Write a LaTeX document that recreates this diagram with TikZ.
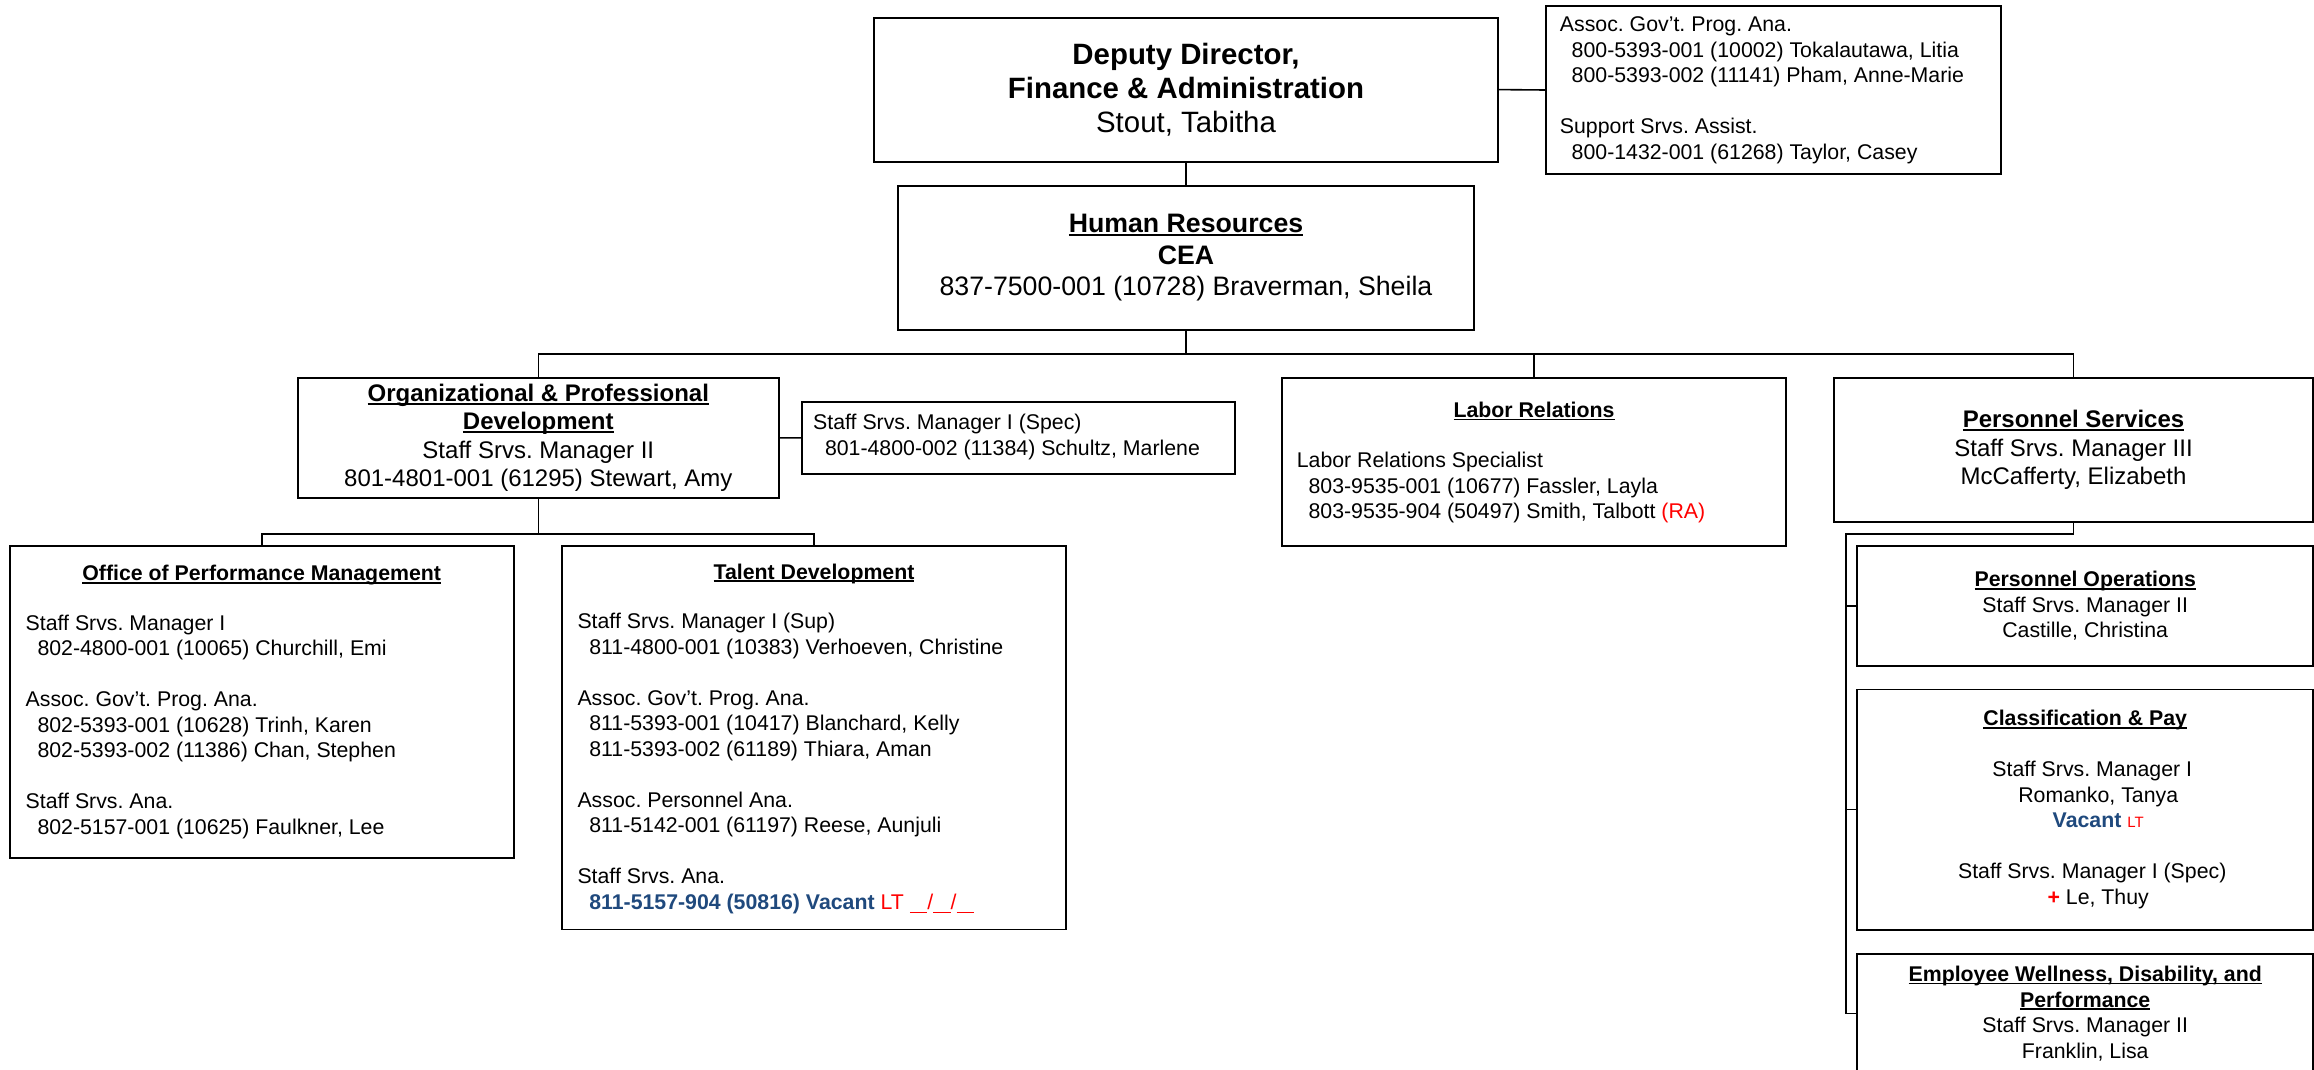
\documentclass[tikz,border=0pt]{standalone}
\usepackage{fontspec}
\setmainfont{Liberation Sans}
\frenchspacing
\definecolor{vacblue}{HTML}{1F497D}
\definecolor{ltred}{HTML}{FF0000}
\newbox\ulbox
\newcommand\ulx[1]{\setbox\ulbox\hbox{#1}\rlap{\rule[-0.13em]{\wd\ulbox}{0.075em}}\box\ulbox}
\newcommand\fsz[2]{\fontsize{#1pt}{#2pt}\selectfont}
\newcommand\ind{\hspace*{11.8pt}}
\newcommand\blank{\rule[-4.2pt]{17.5pt}{1.4pt}}
\begin{document}
\begin{tikzpicture}[x=1pt,y=-1pt,
  box/.style={draw, line width=1.9pt, inner sep=0pt},
  link/.style={line width=1.6pt},
  txt/.style={inner sep=0pt, font=\fsz{21.3}{25.5}},
  ttl/.style={inner sep=0pt, font=\fsz{21.3}{25.5}\bfseries, anchor=base},
]
\useasboundingbox (0,0) rectangle (2314,1070);
\clip (0,0) rectangle (2314,1070);

% ---------- boxes ----------
\node[box, minimum width=624pt, minimum height=144pt, align=center, font=\fsz{29.4}{34}] (dep) at (1186,89.6)
  {{\bfseries Deputy Director,}\\ {\bfseries Finance \& Administration}\\ Stout, Tabitha};
\node[box, minimum width=455pt, minimum height=168pt] (depside) at (1773.5,90) {};
\node[box, minimum width=576pt, minimum height=144.3pt, align=center, font=\fsz{26.7}{31.5}] (hr) at (1186,257.9)
  {{\bfseries\ulx{Human Resources}}\\ {\bfseries CEA}\\ 837-7500-001 (10728) Braverman, Sheila};
\node[box, minimum width=481.5pt, minimum height=120.5pt, align=center, font=\fsz{24}{28.3}] (opd) at (538.3,437.8)
  {{\bfseries\ulx{Organizational \& Professional}}\\ {\bfseries\ulx{Development}}\\ Staff Srvs. Manager II\\ 801-4801-001 (61295) Stewart, Amy};
\node[box, minimum width=433pt, minimum height=72.3pt] (spec) at (1018.5,437.9) {};
\node[box, minimum width=504pt, minimum height=168pt] (labor) at (1534,461.7) {};
\node[box, minimum width=479pt, minimum height=144.3pt, align=center, font=\fsz{24}{28.3}] (ps) at (2073.5,449.9)
  {{\bfseries\ulx{Personnel Services}}\\ Staff Srvs. Manager III\\ McCafferty, Elizabeth};
\node[box, minimum width=504.2pt, minimum height=312pt] (opm) at (261.7,701.7) {};
\node[box, minimum width=504pt, minimum height=383.8pt] (td) at (814,737.6) {};
\node[box, minimum width=455.7pt, minimum height=120pt, align=center, font=\fsz{21.3}{25.3}] (po) at (2085.2,605.8)
  {{\bfseries\ulx{Personnel Operations}}\\ Staff Srvs. Manager II\\ Castille, Christina};
\node[box, minimum width=455.7pt, minimum height=240.3pt, align=center, font=\fsz{21.3}{25.5}] (cp) at (2085.2,809.6)
  {{\bfseries\ulx{Classification \& Pay}}\\[25.5pt]
   \hspace*{14pt}Staff Srvs. Manager I\\
   \hspace*{26pt}Romanko, Tanya\\
   \hspace*{26pt}{\bfseries\color{vacblue}Vacant} {\color{ltred}\fsz{15}{25.5}LT}\\[25.5pt]
   \hspace*{14pt}Staff Srvs. Manager I (Spec)\\
   \hspace*{26pt}{\color{ltred}\bfseries +} Le, Thuy};
\node[box, minimum width=455.7pt, minimum height=120pt, align=center, font=\fsz{21.3}{25.5}] (ew) at (2085.2,1013.6)
  {{\bfseries\ulx{Employee Wellness, Disability, and}}\\ {\bfseries\ulx{Performance}}\\ Staff Srvs. Manager II\\ Franklin, Lisa};

% ---------- left-aligned texts ----------
\node[txt, align=left, anchor=west] (depsidetxt) at (1559.7,90.5)
  {Assoc. Gov’t. Prog. Ana.\\
   \ind 800-5393-001 (10002) Tokalautawa, Litia\\
   \ind 800-5393-002 (11141) Pham, Anne-Marie\\[25.5pt]
   Support Srvs. Assist.\\
   \ind 800-1432-001 (61268) Taylor, Casey};
\node[txt, align=left, anchor=west] (spectxt) at (813,437)
  {Staff Srvs. Manager I (Spec)\\
   \ind 801-4800-002 (11384) Schultz, Marlene};
\node[ttl] (labort) at (1534,417.6) {\ulx{Labor Relations}};
\node[txt, align=left, anchor=west] (labortxt) at (1296.6,487.5)
  {Labor Relations Specialist\\
   \ind 803-9535-001 (10677) Fassler, Layla\\
   \ind 803-9535-904 (50497) Smith, Talbott {\color{ltred}(RA)}};
\node[ttl] (opmt) at (261.7,580.9) {\ulx{Office of Performance Management}};
\node[txt, align=left, anchor=west] (opmtxt) at (25.5,726.8)
  {Staff Srvs. Manager I\\
   \ind 802-4800-001 (10065) Churchill, Emi\\[25.5pt]
   Assoc. Gov’t. Prog. Ana.\\
   \ind 802-5393-001 (10628) Trinh, Karen\\
   \ind 802-5393-002 (11386) Chan, Stephen\\[25.5pt]
   Staff Srvs. Ana.\\
   \ind 802-5157-001 (10625) Faulkner, Lee};
\node[ttl] (tdt) at (814,579.3) {\ulx{Talent Development}};
\node[txt, align=left, anchor=west] (tdtxt) at (577.3,763.4)
  {Staff Srvs. Manager I (Sup)\\
   \ind 811-4800-001 (10383) Verhoeven, Christine\\[25.5pt]
   Assoc. Gov’t. Prog. Ana.\\
   \ind 811-5393-001 (10417) Blanchard, Kelly\\
   \ind 811-5393-002 (61189) Thiara, Aman\\[25.5pt]
   Assoc. Personnel Ana.\\
   \ind 811-5142-001 (61197) Reese, Aunjuli\\[25.5pt]
   Staff Srvs. Ana.\\
   \ind{\bfseries\color{vacblue}811-5157-904 (50816) Vacant} {\color{ltred}LT \blank/\blank/\blank}};

% ---------- connectors ----------
\coordinate (bus) at (1186,354);
\coordinate (bus2) at (538.3,534);
\coordinate (pv) at (1845.7,534);
\draw[link] (dep.east) -- (depside.west);
\draw[link] (dep.south) -- (hr.north);
\draw[link] (hr.south) -- (bus);
\draw[link] (opd.north) |- (ps.north |- bus) -- (ps.north);
\draw[link] (labor.north) -- (labor.north |- bus);
\draw[link] (opd.east) -- (spec.west);
\draw[link] (opd.south) -- (bus2);
\draw[link] (opm.north) |- (td.north |- bus2) -- (td.north);
\draw[link] (ps.south) |- (pv) |- (ew.west);
\draw[link] (pv |- po.west) -- (po.west);
\draw[link] (pv |- cp.west) -- (cp.west);
\end{tikzpicture}
\end{document}
